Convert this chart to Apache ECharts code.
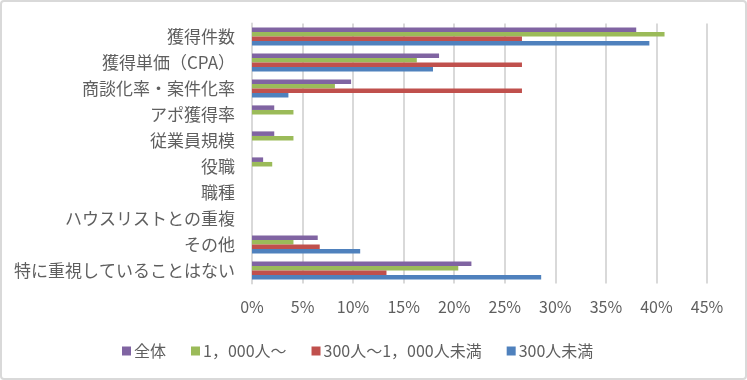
<!DOCTYPE html>
<html>
<head>
<meta charset="utf-8">
<script src="https://cdn.jsdelivr.net/npm/echarts@6/dist/echarts.min.js"></script>
<style>
html,body{margin:0;padding:0;background:#fff;}
#wrap{position:relative;width:747px;height:380px;}
#chart{position:absolute;left:0;top:0;width:747px;height:380px;}
#frame{position:absolute;left:0;top:0;width:747px;height:380px;box-sizing:border-box;border:2px solid #d9d9d9;border-radius:4px;pointer-events:none;}
</style>
</head>
<body>
<div id="wrap"><div id="chart"></div><div id="frame"></div></div>
<script>
const categories = ['獲得件数','獲得単価（CPA）','商談化率・案件化率','アポ獲得率','従業員規模','役職','職種','ハウスリストとの重複','その他','特に重視していることはない'];
const seriesNames = ['全体','1，000人～','300人～1，000人未満','300人未満'];
const valuesAll = [38.0, 18.5, 9.8, 2.2, 2.2, 1.1, 0, 0, 6.5, 21.7];
const values1000 = [40.8, 16.3, 8.2, 4.1, 4.1, 2.0, 0, 0, 4.1, 20.4];
const values300to1000 = [26.7, 26.7, 26.7, 0, 0, 0, 0, 0, 6.7, 13.3];
const valuesUnder300 = [39.3, 17.9, 3.6, 0, 0, 0, 0, 0, 10.7, 28.6];
const xTicks = {min: 0, max: 45, interval: 5};

const colors = ['#8064A2','#9BBB59','#C0504D','#4F81BD'];
const seriesData = [valuesAll, values1000, values300to1000, valuesUnder300];
const font = '"Noto Sans CJK JP", "Noto Sans", sans-serif';

const chart = echarts.init(document.getElementById('chart'), null, {renderer:'canvas'});
chart.setOption({
  animation: false,
  color: colors,
  textStyle: {fontFamily: font},
  grid: {left: 252, right: 40, top: 23.5, bottom: 96.5, containLabel: false},
  xAxis: {
    type: 'value', min: xTicks.min, max: xTicks.max, interval: xTicks.interval,
    axisLabel: {formatter: '{value}%', color: '#5f5f5f', fontSize: 16, margin: 15, fontFamily: font},
    axisLine: {show: false}, axisTick: {show: false},
    splitLine: {lineStyle: {color: '#d9d9d9', width: 2}}
  },
  yAxis: {
    type: 'category', data: categories, inverse: true,
    axisLine: {show: true, lineStyle: {color: '#d9d9d9', width: 2}},
    axisTick: {show: false},
    axisLabel: {color: '#5f5f5f', fontSize: 17, margin: 17, fontFamily: font}
  },
  legend: {
    bottom: 16, left: 117,
    icon: 'rect', itemWidth: 9, itemHeight: 9, itemGap: 25,
    textStyle: {color: '#5f5f5f', fontSize: 16, fontFamily: font, padding: [0,0,0,-2]},
    data: seriesNames
  },
  series: seriesNames.map((n, i) => ({
    name: n, type: 'bar', data: seriesData[i],
    barGap: '0%', barCategoryGap: '30%',
    itemStyle: {color: colors[i]}
  }))
});
</script>
</body>
</html>
